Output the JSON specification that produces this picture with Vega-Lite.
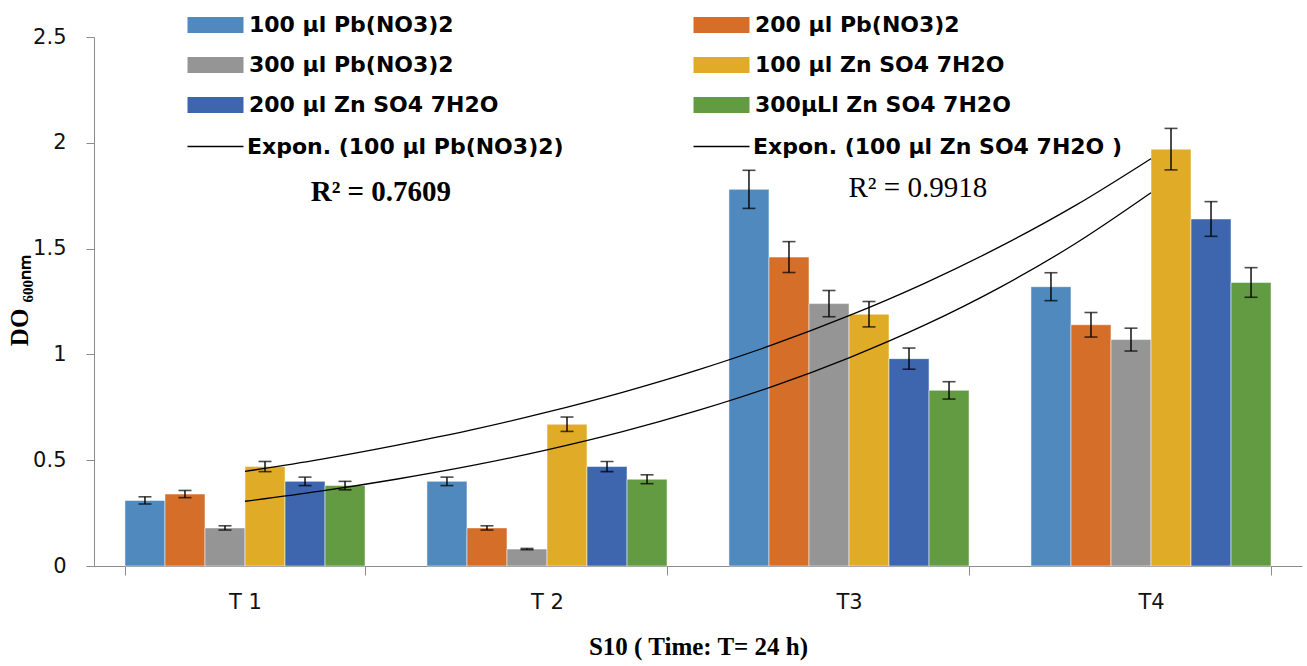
{
  "$schema": "https://vega.github.io/schema/vega-lite/v6.json",
  "width": 1208,
  "height": 529,
  "autosize": {"type": "none"},
  "padding": {"left": 94, "top": 37, "right": 5, "bottom": 100},
  "background": "white",
  "config": {"view": {"stroke": null}, "axis": {"grid": false}},
  "datasets": {
    "bars": [
      {"t": "T 1", "s": "100 µl Pb(NO3)2", "v": 0.31, "lo": 0.293, "hi": 0.327},
      {"t": "T 1", "s": "200 µl Pb(NO3)2", "v": 0.34, "lo": 0.323, "hi": 0.357},
      {"t": "T 1", "s": "300 µl Pb(NO3)2", "v": 0.18, "lo": 0.17, "hi": 0.19},
      {"t": "T 1", "s": "100 µl Zn SO4 7H2O", "v": 0.47, "lo": 0.446, "hi": 0.494},
      {"t": "T 1", "s": "200 µl Zn SO4 7H2O", "v": 0.40, "lo": 0.38, "hi": 0.42},
      {"t": "T 1", "s": "300µLl Zn SO4 7H2O", "v": 0.38, "lo": 0.36, "hi": 0.40},
      {"t": "T 2", "s": "100 µl Pb(NO3)2", "v": 0.40, "lo": 0.38, "hi": 0.42},
      {"t": "T 2", "s": "200 µl Pb(NO3)2", "v": 0.18, "lo": 0.17, "hi": 0.19},
      {"t": "T 2", "s": "300 µl Pb(NO3)2", "v": 0.08, "lo": 0.077, "hi": 0.083},
      {"t": "T 2", "s": "100 µl Zn SO4 7H2O", "v": 0.67, "lo": 0.636, "hi": 0.704},
      {"t": "T 2", "s": "200 µl Zn SO4 7H2O", "v": 0.47, "lo": 0.446, "hi": 0.494},
      {"t": "T 2", "s": "300µLl Zn SO4 7H2O", "v": 0.41, "lo": 0.389, "hi": 0.431},
      {"t": "T3", "s": "100 µl Pb(NO3)2", "v": 1.78, "lo": 1.69, "hi": 1.87},
      {"t": "T3", "s": "200 µl Pb(NO3)2", "v": 1.46, "lo": 1.387, "hi": 1.533},
      {"t": "T3", "s": "300 µl Pb(NO3)2", "v": 1.24, "lo": 1.178, "hi": 1.302},
      {"t": "T3", "s": "100 µl Zn SO4 7H2O", "v": 1.19, "lo": 1.13, "hi": 1.25},
      {"t": "T3", "s": "200 µl Zn SO4 7H2O", "v": 0.98, "lo": 0.93, "hi": 1.03},
      {"t": "T3", "s": "300µLl Zn SO4 7H2O", "v": 0.83, "lo": 0.789, "hi": 0.871},
      {"t": "T4", "s": "100 µl Pb(NO3)2", "v": 1.32, "lo": 1.254, "hi": 1.386},
      {"t": "T4", "s": "200 µl Pb(NO3)2", "v": 1.14, "lo": 1.082, "hi": 1.198},
      {"t": "T4", "s": "300 µl Pb(NO3)2", "v": 1.07, "lo": 1.016, "hi": 1.124},
      {"t": "T4", "s": "100 µl Zn SO4 7H2O", "v": 1.97, "lo": 1.872, "hi": 2.068},
      {"t": "T4", "s": "200 µl Zn SO4 7H2O", "v": 1.64, "lo": 1.558, "hi": 1.722},
      {"t": "T4", "s": "300µLl Zn SO4 7H2O", "v": 1.34, "lo": 1.27, "hi": 1.41}
    ],
    "trend": [
      {"s": "Expon. (100 µl Pb(NO3)2)", "t": 1.0, "v": 0.306},
      {"s": "Expon. (100 µl Pb(NO3)2)", "t": 1.25, "v": 0.354},
      {"s": "Expon. (100 µl Pb(NO3)2)", "t": 1.5, "v": 0.410},
      {"s": "Expon. (100 µl Pb(NO3)2)", "t": 1.75, "v": 0.474},
      {"s": "Expon. (100 µl Pb(NO3)2)", "t": 2.0, "v": 0.549},
      {"s": "Expon. (100 µl Pb(NO3)2)", "t": 2.25, "v": 0.635},
      {"s": "Expon. (100 µl Pb(NO3)2)", "t": 2.5, "v": 0.735},
      {"s": "Expon. (100 µl Pb(NO3)2)", "t": 2.75, "v": 0.850},
      {"s": "Expon. (100 µl Pb(NO3)2)", "t": 3.0, "v": 0.984},
      {"s": "Expon. (100 µl Pb(NO3)2)", "t": 3.25, "v": 1.138},
      {"s": "Expon. (100 µl Pb(NO3)2)", "t": 3.5, "v": 1.317},
      {"s": "Expon. (100 µl Pb(NO3)2)", "t": 3.75, "v": 1.524},
      {"s": "Expon. (100 µl Pb(NO3)2)", "t": 4.0, "v": 1.764},
      {"s": "Expon. (100 µl Zn SO4 7H2O )", "t": 1.0, "v": 0.447},
      {"s": "Expon. (100 µl Zn SO4 7H2O )", "t": 1.25, "v": 0.504},
      {"s": "Expon. (100 µl Zn SO4 7H2O )", "t": 1.5, "v": 0.570},
      {"s": "Expon. (100 µl Zn SO4 7H2O )", "t": 1.75, "v": 0.643},
      {"s": "Expon. (100 µl Zn SO4 7H2O )", "t": 2.0, "v": 0.727},
      {"s": "Expon. (100 µl Zn SO4 7H2O )", "t": 2.25, "v": 0.821},
      {"s": "Expon. (100 µl Zn SO4 7H2O )", "t": 2.5, "v": 0.927},
      {"s": "Expon. (100 µl Zn SO4 7H2O )", "t": 2.75, "v": 1.047},
      {"s": "Expon. (100 µl Zn SO4 7H2O )", "t": 3.0, "v": 1.183},
      {"s": "Expon. (100 µl Zn SO4 7H2O )", "t": 3.25, "v": 1.336},
      {"s": "Expon. (100 µl Zn SO4 7H2O )", "t": 3.5, "v": 1.509},
      {"s": "Expon. (100 µl Zn SO4 7H2O )", "t": 3.75, "v": 1.704},
      {"s": "Expon. (100 µl Zn SO4 7H2O )", "t": 4.0, "v": 1.925}
    ]
  },
  "layer": [
    {
      "data": {"name": "bars"},
      "layer": [
        {
          "mark": {"type": "bar", "stroke": "white", "strokeOpacity": 0.5, "strokeWidth": 1},
          "encoding": {
            "x": {
              "field": "t", "type": "nominal", "sort": ["T 1", "T 2", "T3", "T4"],
              "scale": {"paddingInner": 0.205, "paddingOuter": 0.1025},
              "axis": {
                "title": "S10 ( Time: T= 24 h)",
                "titleFont": "Liberation Serif", "titleFontSize": 25, "titleFontWeight": "bold", "titleColor": "black",
                "titleY": 80, "titleBaseline": "middle",
                "labelFont": "DejaVu Sans", "labelFontSize": 21, "labelColor": "#111", "labelPadding": 16, "labelAngle": 0,
                "tickBand": "extent", "tickSize": 9, "tickColor": "#8c8c8c", "domainColor": "#8c8c8c"
              }
            },
            "xOffset": {"field": "s", "type": "nominal", "sort": ["100 µl Pb(NO3)2", "200 µl Pb(NO3)2", "300 µl Pb(NO3)2", "100 µl Zn SO4 7H2O", "200 µl Zn SO4 7H2O", "300µLl Zn SO4 7H2O"]},
            "y": {
              "field": "v", "type": "quantitative",
              "scale": {"domain": [0, 2.5], "nice": false},
              "axis": {
                "values": [0, 0.5, 1, 1.5, 2, 2.5], "format": "~g",
                "labelFont": "DejaVu Sans", "labelFontSize": 21, "labelColor": "#111", "labelPadding": 20,
                "tickSize": 8, "tickColor": "#8c8c8c", "domainColor": "#8c8c8c",
                "title": "DO ₆₀₀ₙₘ", "titleFont": "Liberation Serif", "titleFontSize": 25, "titleFontWeight": "bold", "titleColor": "black",
                "titleAngle": -90, "titleX": -67, "titleY": 263, "titleAlign": "center", "titleBaseline": "alphabetic"
              }
            },
            "color": {
              "field": "s", "type": "nominal",
              "scale": {
                "domain": ["100 µl Pb(NO3)2", "300 µl Pb(NO3)2", "200 µl Zn SO4 7H2O", "200 µl Pb(NO3)2", "100 µl Zn SO4 7H2O", "300µLl Zn SO4 7H2O"],
                "range": ["#4F89BE", "#959595", "#3E66AE", "#D46E29", "#E0AB27", "#629B41"]
              },
              "legend": {
                "title": null, "orient": "none", "legendX": 90.5, "legendY": -23, "columns": 2,
                "columnPadding": 192, "rowPadding": 18, "padding": 0,
                "symbolType": "M-1,-1H6V1H-1Z",
                "symbolSize": 256, "symbolStrokeWidth": 0, "labelOffset": 42.5,
                "labelFont": "DejaVu Sans", "labelFontSize": 22, "labelFontWeight": "bold", "labelColor": "black", "labelLimit": 700,
                "symbolOpacity": 1,
                "encode": {
                  "labels": {
                    "font": {"condition": {"test": "datum.value === '200 µl Zn SO4 7H2O'", "value": "Liberation Serif"}, "value": "DejaVu Sans"},
                    "fontSize": {"condition": {"test": "datum.value === '200 µl Zn SO4 7H2O'", "value": 25}, "value": 22}
                  }
                }
              }
            }
          }
        },
        {
          "mark": {"type": "rule", "color": "black", "strokeWidth": 1.4},
          "encoding": {
            "x": {"field": "t", "type": "nominal", "sort": ["T 1", "T 2", "T3", "T4"]},
            "xOffset": {"field": "s", "type": "nominal", "sort": ["100 µl Pb(NO3)2", "200 µl Pb(NO3)2", "300 µl Pb(NO3)2", "100 µl Zn SO4 7H2O", "200 µl Zn SO4 7H2O", "300µLl Zn SO4 7H2O"]},
            "y": {"field": "lo", "type": "quantitative"},
            "y2": {"field": "hi"}
          }
        },
        {
          "mark": {"type": "tick", "color": "black", "thickness": 1.6, "size": 13},
          "encoding": {
            "x": {"field": "t", "type": "nominal", "sort": ["T 1", "T 2", "T3", "T4"]},
            "xOffset": {"field": "s", "type": "nominal", "sort": ["100 µl Pb(NO3)2", "200 µl Pb(NO3)2", "300 µl Pb(NO3)2", "100 µl Zn SO4 7H2O", "200 µl Zn SO4 7H2O", "300µLl Zn SO4 7H2O"]},
            "y": {"field": "hi", "type": "quantitative"}
          }
        },
        {
          "mark": {"type": "tick", "color": "black", "thickness": 1.6, "size": 13},
          "encoding": {
            "x": {"field": "t", "type": "nominal", "sort": ["T 1", "T 2", "T3", "T4"]},
            "xOffset": {"field": "s", "type": "nominal", "sort": ["100 µl Pb(NO3)2", "200 µl Pb(NO3)2", "300 µl Pb(NO3)2", "100 µl Zn SO4 7H2O", "200 µl Zn SO4 7H2O", "300µLl Zn SO4 7H2O"]},
            "y": {"field": "lo", "type": "quantitative"}
          }
        }
      ]
    },
    {
      "layer": [
        {
          "data": {"name": "trend"},
          "mark": {"type": "line", "strokeWidth": 1.3, "interpolate": "monotone"},
          "encoding": {
            "x": {"field": "t", "type": "quantitative", "scale": {"domain": [0.5, 4.5], "nice": false, "zero": false}, "axis": null},
            "y": {"field": "v", "type": "quantitative"},
            "stroke": {
              "field": "s", "type": "nominal",
              "scale": {"domain": ["Expon. (100 µl Pb(NO3)2)", "Expon. (100 µl Zn SO4 7H2O )"], "range": ["#000000", "#000000"]},
              "legend": {
                "title": null, "orient": "none", "legendX": 90.5, "legendY": 98.5, "columns": 2,
                "columnPadding": 126, "padding": 0,
                "symbolType": "M-1,0H6",
                "symbolSize": 256, "symbolStrokeWidth": 1.3, "labelOffset": 40.5,
                "labelFont": "DejaVu Sans", "labelFontSize": 22, "labelFontWeight": "bold", "labelColor": "black", "labelLimit": 700,
                "symbolOpacity": 1
              }
            }
          }
        },
        {
          "data": {"values": [{"label": "R² = 0.7609", "t": 1.45, "v": 1.767}]},
          "mark": {"type": "text", "font": "Liberation Serif", "fontSize": 29, "fontWeight": "bold", "color": "black", "align": "center", "baseline": "middle"},
          "encoding": {
            "x": {"field": "t", "type": "quantitative", "scale": {"domain": [0.5, 4.5], "nice": false, "zero": false}, "axis": null},
            "y": {"field": "v", "type": "quantitative"},
            "text": {"field": "label"}
          }
        },
        {
          "data": {"values": [{"label": "R² = 0.9918", "t": 3.228, "v": 1.786}]},
          "mark": {"type": "text", "font": "Liberation Serif", "fontSize": 29, "color": "black", "align": "center", "baseline": "middle"},
          "encoding": {
            "x": {"field": "t", "type": "quantitative", "scale": {"domain": [0.5, 4.5], "nice": false, "zero": false}, "axis": null},
            "y": {"field": "v", "type": "quantitative"},
            "text": {"field": "label"}
          }
        }
      ]
    }
  ],
  "resolve": {"scale": {"x": "independent"}}
}
